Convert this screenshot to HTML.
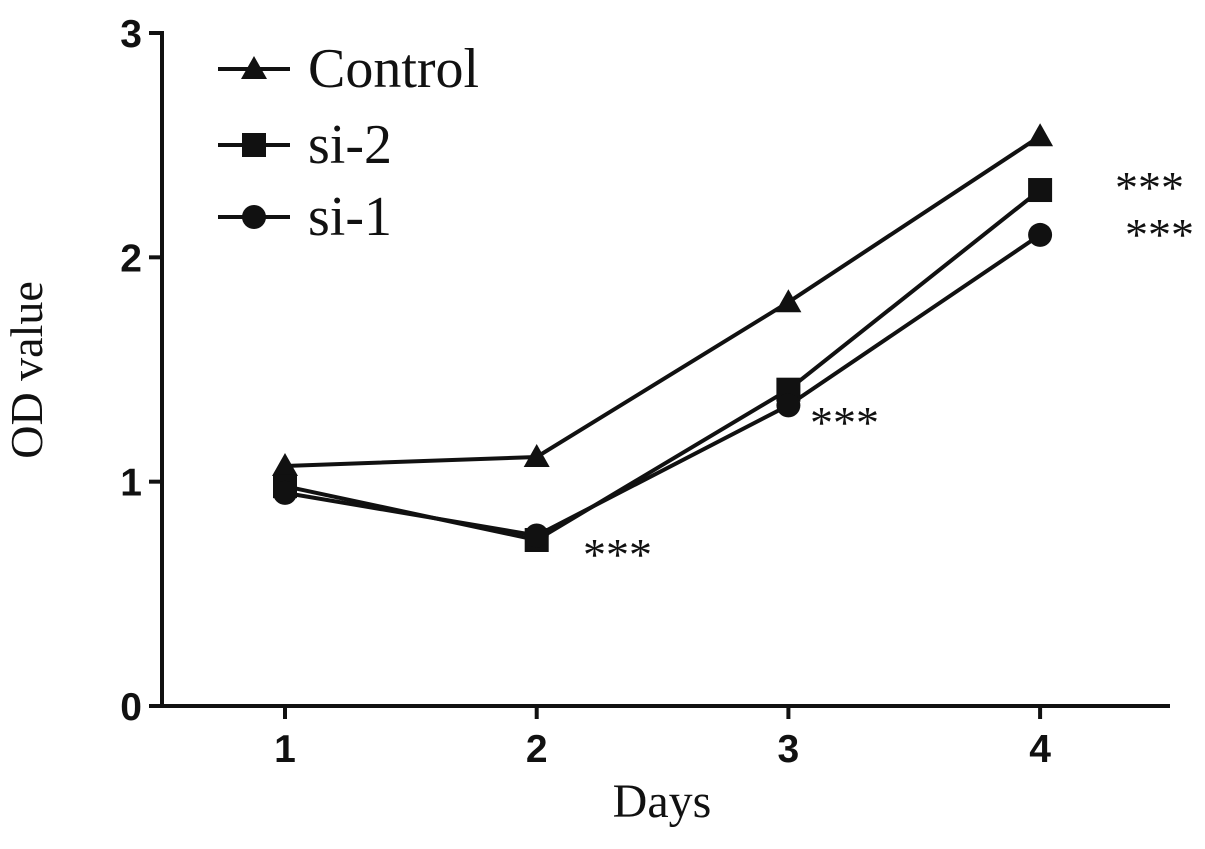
<!DOCTYPE html>
<html><head><meta charset="utf-8"><style>
body{margin:0;background:#fff;}
svg text{fill:#111;}
</style></head><body>
<svg width="1205" height="844" viewBox="0 0 1205 844">
<g id="axes"></g><g id="series"></g><g id="legend"></g>
<text x="42" y="370" transform="rotate(-90 42 370)" text-anchor="middle" font-family="Liberation Serif, serif" font-size="46">OD value</text>
<text x="662" y="817" text-anchor="middle" font-family="Liberation Serif, serif" font-size="48">Days</text>
<g font-family="Liberation Serif, serif" font-size="46">
<text x="583" y="570">***</text>
<text x="810" y="438">***</text>
<text x="1115" y="203">***</text>
<text x="1125" y="250">***</text>
</g>
</svg>
<script>
const categories=[1,2,3,4];
const yTicks=[0,1,2,3];
const seriesNames=["Control","si-2","si-1"];
const controlValues=[1.07,1.11,1.80,2.54];
const si2Values=[0.98,0.74,1.41,2.30];
const si1Values=[0.95,0.76,1.34,2.10];
const NS="http://www.w3.org/2000/svg";
const X0=162,X1=1170,Y0=706,Ytop=33;
const xs=d=>285+(d-1)*251.7;
const ys=v=>Y0-v*(Y0-Ytop)/3;
function mk(t,a,p){const e=document.createElementNS(NS,t);for(const k in a)e.setAttribute(k,a[k]);p.appendChild(e);return e;}
const axes=document.getElementById('axes');
let e=mk('line',{x1:X0,y1:Ytop-2,x2:X0,y2:Y0,stroke:'#111','stroke-width':4},axes);


e=mk('line',{x1:X0-2,y1:Y0,x2:X1,y2:Y0,stroke:'#111','stroke-width':4},axes);


yTicks.forEach(v=>{
 mk('line',{x1:X0-13,y1:ys(v),x2:X0,y2:ys(v),stroke:'#111','stroke-width':4},axes);
 const t=mk('text',{x:X0-20,y:ys(v)+14,'text-anchor':'end','font-family':'Liberation Sans, sans-serif','font-size':39,'font-weight':'bold'},axes);
 t.textContent=v;
 
 
});
categories.forEach(c=>{
 mk('line',{x1:xs(c),y1:Y0,x2:xs(c),y2:Y0+13,stroke:'#111','stroke-width':4},axes);
 const t=mk('text',{x:xs(c),y:Y0+56,'text-anchor':'middle','font-family':'Liberation Sans, sans-serif','font-size':39,'font-weight':'bold'},axes);
 t.textContent=c;
 
 
});
function marker(shape,x,y,p){
 if(shape==='tri')return mk('polygon',{points:`${x},${y-13} ${x-13},${y+10} ${x+13},${y+10}`,fill:'#111'},p);
 if(shape==='sq')return mk('rect',{x:x-12,y:y-12,width:24,height:24,fill:'#111'},p);
 return mk('circle',{cx:x,cy:y,r:12,fill:'#111'},p);
}
const all=[[controlValues,'tri','control'],[si2Values,'sq','si-2'],[si1Values,'circ','si-1']];
const sg=document.getElementById('series');
all.forEach(([vals,sh,nm])=>{
 const pl=mk('polyline',{points:vals.map((v,i)=>xs(categories[i])+','+ys(v)).join(' '),fill:'none',stroke:'#111','stroke-width':4},sg);
 
 
 vals.forEach((v,i)=>{const m=marker(sh,xs(categories[i]),ys(v),sg);
  
  });
});
const lg=document.getElementById('legend');
const ly=[69,145,217];
all.forEach(([v,sh,nm],i)=>{
 mk('line',{x1:218,y1:ly[i],x2:290,y2:ly[i],stroke:'#111','stroke-width':4},lg);
 marker(sh,254,ly[i],lg);
 const t=mk('text',{x:308,y:ly[i]+18,'font-family':'Liberation Serif, serif','font-size':56},lg);
 t.textContent=seriesNames[i];
 
 
});
</script>
</body></html>
